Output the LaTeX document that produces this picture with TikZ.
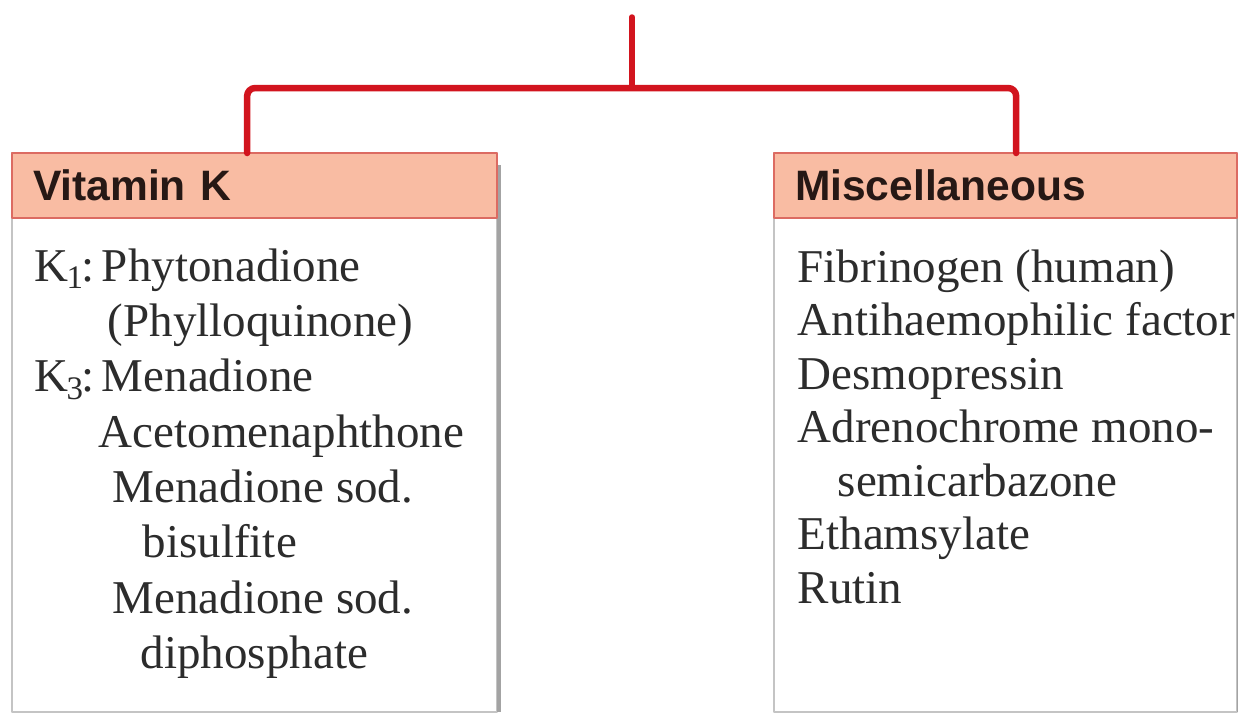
\documentclass[tikz,border=0pt]{standalone}
\usepackage{fontspec}
\setmainfont{Liberation Serif}
\setsansfont{Liberation Sans}
\usepackage{tikz}
\usetikzlibrary{positioning}
\definecolor{dmRed}{HTML}{D2141E}
\definecolor{dmSalmon}{HTML}{F9BCA3}
\definecolor{dmEdge}{HTML}{DC6B62}
\definecolor{dmFrame}{HTML}{C4C4C4}
\definecolor{dmShade}{HTML}{A3A3A3}
\definecolor{dmInk}{HTML}{2C2C2C}
\definecolor{dmHeadInk}{HTML}{261815}
\tikzset{
  dm diagram/.style={line cap=round, line join=round},
  dm link/.style={draw=dmRed, line width=0.055cm},
  dm bar/.style={dm link, line width=0.065cm, rounded corners=0.08cm},
  dm panel/.style={draw=dmFrame, fill=white, line width=0.02cm,
    anchor=north west, outer sep=0pt, inner sep=0pt, minimum height=5.59cm},
  dm head/.style={draw=dmEdge, fill=dmSalmon, line width=0.02cm,
    anchor=north west, outer sep=0pt, inner xsep=0.21cm, inner ysep=0pt,
    minimum height=0.65cm, align=left, text=dmHeadInk,
    font=\sffamily\bfseries\fontsize{12.1pt}{14pt}\selectfont},
  dm list/.style={anchor=north west, inner sep=0pt, align=left, text=dmInk,
    font=\fontsize{13.37pt}{#1}\selectfont},
  dm shade/.style={fill=dmShade}
}
\newcommand{\dmSub}[1]{\kern-0.02cm\textsubscript{#1}\kern-0.03cm:\hspace{0.07cm}}
\begin{document}
\begin{tikzpicture}[dm diagram,x=0.01cm,y=-0.01cm]
\useasboundingbox (0,0) rectangle (1238,714);
\fill[white] (0,0) rectangle (1238,714);

\coordinate (root) at (632,17);
\coordinate (hub) at (632,88);

\node[dm panel, minimum width=4.85cm] (vitPanel) at (12,153) {};
\node[dm panel, minimum width=4.63cm] (miscPanel) at (774,153) {};
\fill[dm shade] ([yshift=-0.12cm]vitPanel.north east) rectangle ([xshift=0.04cm]vitPanel.south east);
\fill[dm shade] ([yshift=-0.12cm]miscPanel.north east) rectangle ([xshift=0.02cm]miscPanel.south east);

\node[dm head, text width=4.43cm] (vitHead) at (vitPanel.north west) {Vitamin K};
\node[dm head, text width=4.21cm] (miscHead) at (miscPanel.north west) {Miscellaneous};

\draw[dm link] (root) -- (hub);
\draw[dm bar] ([xshift=-0.075cm]vitHead.north) |- (hub) -| ([xshift=0.105cm]miscHead.north);

\node[dm list=15.73pt] (vitList) at (34,248) {%
K\dmSub{1}Phytonadione\\
\hspace*{0.73cm}(Phylloquinone)\\
K\dmSub{3}Menadione\\
\hspace*{0.64cm}Acetomenaphthone\\
\hspace*{0.78cm}Menadione sod.\\
\hspace*{1.08cm}bisulfite\\
\hspace*{0.78cm}Menadione sod.\\
\hspace*{1.06cm}diphosphate};

\node[dm list=15.22pt] (miscList) at (797,249) {%
Fibrinogen (human)\\
Antihaemophilic factor\\
Desmopressin\\
Adrenochrome mono-\\
\hspace*{0.40cm}semicarbazone\\
Ethamsylate\\
Rutin};
\end{tikzpicture}
\end{document}
